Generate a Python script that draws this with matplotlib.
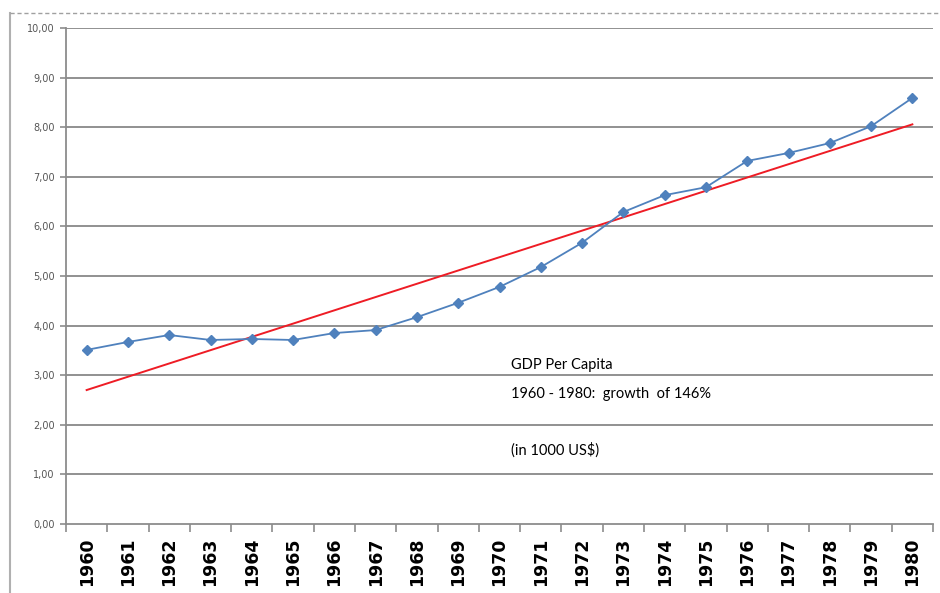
import numpy as np
import matplotlib.pyplot as plt
from matplotlib.lines import Line2D

# GDP per capita, 1000 US$
years = list(range(1960, 1981))
gdp = [3.51, 3.67, 3.81, 3.71, 3.73, 3.71, 3.85, 3.91, 4.17, 4.46, 4.78,
       5.18, 5.67, 6.29, 6.63, 6.79, 7.32, 7.48, 7.68, 8.02, 8.59]
y_ticks = [0, 1, 2, 3, 4, 5, 6, 7, 8, 9, 10]

x = np.arange(len(years))
slope, intercept = np.polyfit(x, gdp, 1)
trend = slope * x + intercept

fig = plt.figure(figsize=(9.4, 5.93), dpi=100)
ax = fig.add_axes([66 / 940, 1 - 524 / 593, 867 / 940, 496 / 593])

for t in y_ticks[1:]:
    ax.axhline(t, color='#888888', lw=1.3, zorder=1)

ax.plot(x, gdp, color='#4f81bd', lw=1.3, marker='D', markersize=5,
        markerfacecolor='#4f81bd', markeredgecolor='#4f81bd', zorder=3)
ax.plot(x, trend, color='#ee1c25', lw=1.4, zorder=2)

ax.set_xlim(-0.5, len(years) - 0.5)
ax.set_ylim(0, 10)
ax.set_yticks(y_ticks)
ax.set_yticklabels([f'{t:.2f}'.replace('.', ',') for t in y_ticks],
                   fontsize=7, color='#555555')
ax.tick_params(axis='y', length=4, color='#8c8c8c', width=1.2, pad=4)

ax.set_xticks(x)
ax.set_xticklabels([str(y) for y in years], rotation=90, fontsize=12.5,
                   fontweight='bold')
ax.tick_params(axis='x', length=0, pad=10)
ax.set_xticks(np.arange(-0.5, len(years)), minor=True)
ax.tick_params(axis='x', which='minor', length=6, color='#8c8c8c', width=1.2)

for side in ['top', 'right']:
    ax.spines[side].set_visible(False)
for side in ['left', 'bottom']:
    ax.spines[side].set_color('#8c8c8c')
    ax.spines[side].set_linewidth(1.3)

ax.text(10.27, 3.2, 'GDP Per Capita', fontsize=10.5, family='Lato',
        va='center', ha='left')
ax.text(10.27, 2.62, '1960 - 1980:  growth  of 146%', fontsize=10.5,
        family='Lato', va='center', ha='left')
ax.text(10.27, 1.5, '(in 1000 US$)', fontsize=10.5, family='Lato',
        va='center', ha='left')

# outer frame of the chart area
fig.add_artist(Line2D([10 / 940, 10 / 940], [0, 1 - 13 / 593],
                      color='#b0b0b0', lw=1.5))
fig.add_artist(Line2D([10 / 940, 1], [1 - 13 / 593, 1 - 13 / 593],
                      color='#a0a0a0', lw=1.0, ls=(0, (3, 2))))

fig.savefig('out.png', dpi=100)
